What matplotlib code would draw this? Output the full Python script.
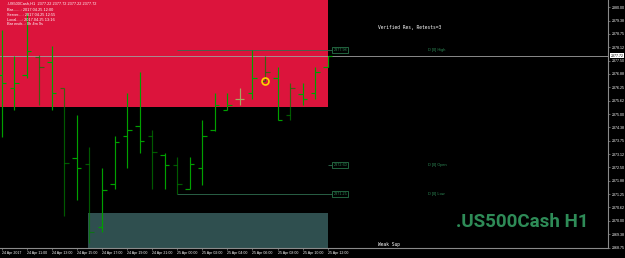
#!/usr/bin/env python3
"""MT4 style H1 bar chart of .US500Cash with supply/demand zones."""

import matplotlib
matplotlib.use("Agg")
import matplotlib.pyplot as plt
from matplotlib.patches import Rectangle
from matplotlib.transforms import blended_transform_factory

# bar data, one bar per hour (24 Apr 09:00 .. 25 Apr 12:00)
opens = [2376.84, 2376.22, 2376.84, 2377.69, 2377.43, 2376.22, 2372.95, 2372.68, 2369.73,
         2371.74, 2373.96, 2374.46, 2373.96, 2373.10, 2372.60, 2371.50, 2372.48, 2374.23,
         2375.21, 2375.70, 2375.99, 2376.56, 2376.69, 2374.97, 2375.95, 2375.99, 2377.22]
highs = [2378.94, 2377.73, 2379.73, 2377.77, 2378.19, 2376.22, 2374.97, 2373.46, 2372.45,
         2373.96, 2375.99, 2376.97, 2374.23, 2373.18, 2372.98, 2372.98, 2374.71, 2375.99,
         2375.99, 2376.22, 2377.98, 2377.73, 2377.20, 2376.45, 2376.45, 2377.20, 2377.72]
lows = [2373.94, 2375.17, 2376.70, 2375.44, 2375.17, 2370.22, 2370.97, 2368.98, 2369.48,
        2371.47, 2372.45, 2373.18, 2371.47, 2371.47, 2371.25, 2371.47, 2371.70, 2374.19,
        2375.17, 2375.44, 2375.70, 2376.53, 2374.74, 2374.74, 2375.44, 2375.70, 2377.22]
closes = [2376.47, 2376.45, 2377.93, 2377.20, 2375.99, 2372.72, 2372.48, 2369.48, 2371.44,
          2373.70, 2374.23, 2373.73, 2373.21, 2372.59, 2371.74, 2372.68, 2373.96, 2375.44,
          2375.44, 2375.70, 2376.69, 2376.96, 2374.74, 2376.22, 2375.70, 2376.97, 2377.72]
tones = ["up", "up", "up", "dn", "up", "dn", "up", "dn", "up", "up", "up", "up", "dn", "up",
         "dn", "up", "up", "up", "up", "dj", "up", "dn", "up", "dn", "up", "up", "up"]

x_ticks = [0, 2, 4, 6, 8, 10, 12, 14, 16, 18, 20, 22, 24, 26]
x_labels = ["24 Apr 2017", "24 Apr 11:00", "24 Apr 13:00", "24 Apr 15:00", "24 Apr 17:00",
            "24 Apr 19:00", "24 Apr 21:00", "25 Apr 00:00", "25 Apr 02:00", "25 Apr 04:00",
            "25 Apr 06:00", "25 Apr 08:00", "25 Apr 10:00", "25 Apr 12:00"]
y_ticks = [2380.00, 2379.375, 2378.75, 2378.125, 2377.50, 2376.875, 2376.25, 2375.625,
           2375.00, 2374.375, 2373.75, 2373.125, 2372.50, 2371.875, 2371.25, 2370.625,
           2370.00, 2369.375, 2368.75]

bid = 2377.72
day_high, day_open, day_low = 2377.98, 2372.60, 2371.25
res_zone = (-1, 26.02, 2375.35, 2382.0)   # first bar, last bar, bottom, top
sup_zone = (6.9, 26.02, 2366.0, 2370.35)
marker_bar, marker_price = 21, 2376.53

TONE_COLORS = {"up": ("#00a000", 1.0), "dn": ("#008000", 0.7), "dj": ("#a8a860", 1.0)}
GRID_GRAY = "#8a8a8a"
LABEL_GREEN = "#2e8b57"
SMALL = "Liberation Sans"

fig = plt.figure(figsize=(6.25, 2.58), dpi=100, facecolor="black")
ax = fig.add_axes([0, 10.5 / 258, 608 / 625, 247.5 / 258])
ax.set_facecolor("black")
ax.set_xlim(-0.136, 48.35)
ax.set_ylim(2368.79, 2380.34)

# zones
for (x0, x1, y0, y1), col in ((res_zone, "#dc143c"), (sup_zone, "#2f4f4f")):
    ax.add_patch(Rectangle((x0, y0), x1 - x0, y1 - y0, color=col, lw=0, zorder=0))

# daily levels
ax.axhline(bid, color="#a0a0a0", lw=0.6, zorder=1)
ax.hlines([day_high, day_low], 14, 26.35, color="#2f6f4f", lw=0.6, zorder=1)
ax.hlines([day_open], 26, 26.35, color="#2f6f4f", lw=0.6, zorder=1)
for price, name in ((day_high, "High"), (day_open, "Open"), (day_low, "Low")):
    ax.text(26.45, price, f"{price:.2f}", color=LABEL_GREEN, fontsize=2.7, family=SMALL,
            va="center", ha="left",
            bbox=dict(boxstyle="square,pad=0.25", fc="black", ec=LABEL_GREEN, lw=0.5))
    ax.text(34.0, price, f"D [0] {name}", color=LABEL_GREEN, fontsize=2.8, family=SMALL,
            va="center", ha="left")

# bars
tick = 0.36
for i, (o, h, l, c, t) in enumerate(zip(opens, highs, lows, closes, tones)):
    col, a = TONE_COLORS[t]
    ax.vlines(i, l, h, color=col, alpha=a, lw=0.85, zorder=3)
    ax.hlines(o, i - tick, i, color=col, alpha=a, lw=0.85, zorder=3)
    ax.hlines(c, i, i + tick, color=col, alpha=a, lw=0.85, zorder=3)

ax.plot(marker_bar, marker_price, "o", ms=5, mfc="none", mec="#ffd400", mew=1.2, zorder=4)

# zone labels
ax.text(30.0, 2379.03, "Verified Res, Retests=3", color="white", fontsize=3.3,
        family="DejaVu Sans Mono", va="center", ha="left")
ax.text(30.0, 2368.91, "Weak Sup", color="white", fontsize=3.3,
        family="DejaVu Sans Mono", va="center", ha="left")

# axes styling
for side in ("top", "left"):
    ax.spines[side].set_visible(False)
for side in ("right", "bottom"):
    ax.spines[side].set_color(GRID_GRAY)
    ax.spines[side].set_linewidth(0.8)

ax.yaxis.tick_right()
ax.set_yticks(y_ticks)
ax.set_yticklabels([f"{v:.2f}" for v in y_ticks], family=SMALL)
ax.set_xticks(x_ticks)
ax.set_xticklabels(x_labels, ha="left", family=SMALL)
ax.tick_params(axis="both", colors=GRID_GRAY, labelcolor="white", labelsize=2.6,
               length=1.6, width=0.5, pad=0.8)

trans = blended_transform_factory(ax.transAxes, ax.transData)
ax.text(1.004, bid, f"{bid:.2f}", transform=trans, color="black", fontsize=2.6,
        family=SMALL, va="center", ha="left",
        bbox=dict(boxstyle="square,pad=0.15", fc="white", ec="none"))

# header info
fig.text(7 / 625, 1 - 4 / 258, ".US500Cash,H1  2377.22 2377.72 2377.22 2377.72",
         color="white", fontsize=2.8, family=SMALL, va="center", ha="left")
info = ["Bar.......: 2017.04.25 12:00", "Server....: 2017.04.25 12:55",
        "Local.....: 2017.04.25 13:16", "Bar ends..: 0h 4m 9s"]
for k, line in enumerate(info):
    fig.text(7 / 625, 1 - (10 + 4.8 * k) / 258, line, color="white", fontsize=2.8,
             family=SMALL, va="center", ha="left")

fig.text(588 / 625, 1 - 222 / 258, ".US500Cash H1", color=LABEL_GREEN, fontsize=13.5,
         fontweight="bold", family=["Liberation Sans Narrow", "Roboto", "DejaVu Sans"],
         ha="right", va="center")

fig.savefig("out.png", dpi=100, facecolor="black")
